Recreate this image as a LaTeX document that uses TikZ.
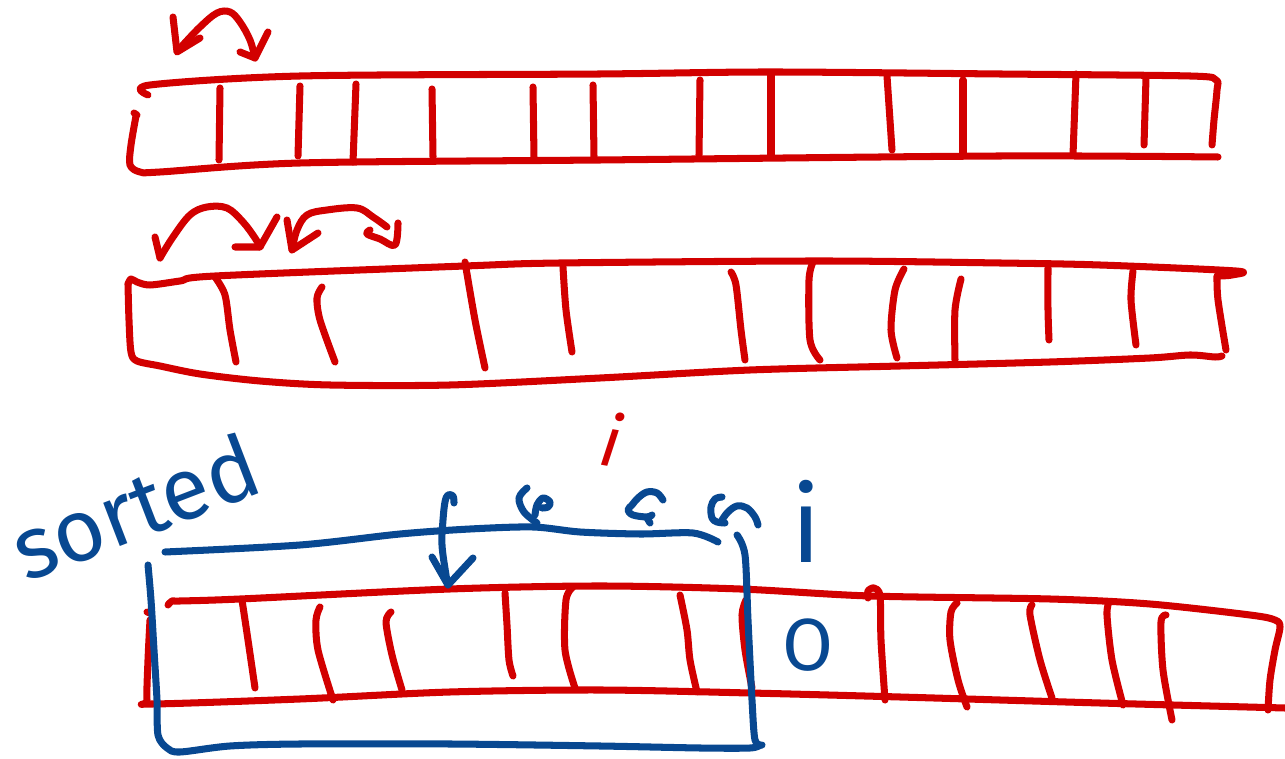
\documentclass[tikz,border=0pt]{standalone}
\usepackage{fontspec}
\newfontfamily\handfont{Fira Sans}
\definecolor{inkred}{RGB}{210,0,0}
\definecolor{inkblue}{RGB}{8,72,145}
\begin{document}
\begin{tikzpicture}[x=0.02cm,y=-0.02cm,
  redink/.style={draw=inkred,line width=4pt,line cap=round,line join=round},
  blueink/.style={draw=inkblue,line width=4pt,line cap=round,line join=round},
  bluetext/.style={text=inkblue,inner sep=0pt,font=\handfont},
  redtext/.style={text=inkred,inner sep=0pt,font=\handfont}]
\useasboundingbox (0,0) rectangle (1285,759);

% ---------- array 1 ----------
\draw[redink] plot[smooth,tension=0.5] coordinates {(148,95)(150,85)(300,76)(600,74)(770,72)(1000,74)(1190,76)(1216,80)(1217,90)(1214,120)(1212,145)};
\draw[redink] (134,113)--(137,115);
\draw[redink] plot[smooth,tension=0.5] coordinates {(136,116)(131,145)(130,165)(140,172)(160,172)(300,163)(600,160)(1000,156)(1218,157)};
\foreach \xa/\ya/\xb/\yb in {220/88/219/160,300/86/298/156,356/84/353/162,432/89/433/157,533/87/534/158,593/85/594/157,700/80/699/155,771/73/771/157,887/76/892/150,963/80/963/155,1076/74/1073/155,1146/78/1144/145}
  \draw[redink] (\xa,\ya)--(\xb,\yb);

% swap arrow above array 1
\draw[redink] (173,17)--(177,52)--(200,38);
\draw[redink] plot[smooth,tension=0.6] coordinates {(182,46)(200,27)(217,13)(230,12)(240,22)(250,40)(255,58)};
\draw[redink] (240,52)--(255,58)--(268,32);

% ---------- array 2 ----------
\draw[redink] plot[smooth,tension=0.5] coordinates {(128,284)(131,279)(137,282)(150,285)(180,281)(215,276)(465,266)(560,263)(820,261)(1000,263)(1100,265)(1236,271)(1232,275)(1220,276)};
\draw[redink] plot[smooth,tension=0.5] coordinates {(128,284)(129,320)(131,352)(137,361)(160,366)(200,374)(260,381)(330,385)(450,385)(600,378)(750,370)(900,366)(1050,362)(1150,358)(1190,355)(1215,357)(1222,356)};
\draw[redink] plot[smooth] coordinates {(215,277)(225,295)(230,330)(236,362)};
\draw[redink] plot[smooth] coordinates {(322,287)(317,298)(320,320)(335,362)};
\draw[redink] plot[smooth] coordinates {(465,262)(475,320)(485,368)};
\draw[redink] plot[smooth] coordinates {(563,267)(566,310)(572,352)};
\draw[redink] plot[smooth] coordinates {(731,272)(736,285)(741,330)(745,360)};
\draw[redink] plot[smooth] coordinates {(813,262)(809,280)(810,340)(820,360)};
\draw[redink] plot[smooth] coordinates {(904,269)(895,290)(891,330)(897,358)};
\draw[redink] plot[smooth] coordinates {(961,279)(955,310)(955,360)};
\draw[redink] plot[smooth] coordinates {(1048,268)(1048,310)(1049,340)};
\draw[redink] plot[smooth] coordinates {(1133,271)(1131,300)(1136,345)};
\draw[redink] plot[smooth] coordinates {(1217,276)(1218,300)(1226,350)};

% swap arrows above array 2
\draw[redink] (155,237)--(160,258);
\draw[redink] plot[smooth,tension=0.6] coordinates {(160,258)(173,237)(190,215)(207,207)(227,208)(243,222)(255,238)(260,247)};
\draw[redink] (235,247)--(260,247)--(277,217);
\draw[redink] (287,220)--(292,250)--(318,233);
\draw[redink] plot[smooth,tension=0.6] coordinates {(292,250)(297,230)(307,215)(327,210)(357,208)(373,217)(387,227)};
\draw[redink] plot[smooth,tension=0.6] coordinates {(370,230)(367,234)(380,239)(395,245)(398,223)};

% ---------- array 3 ----------
\draw[redink] plot[smooth,tension=0.5] coordinates {(168,605)(172,601)(180,601)(240,599)(450,589)(600,586)(740,589)(870,596)(1050,599)(1150,604)(1250,615)(1275,620)(1280,627)(1275,650)(1270,680)(1268,710)};
\draw[redink] (147,612)--(150,613);
\draw[redink] plot[smooth,tension=0.5] coordinates {(150,620)(148,660)(147,700)(152,704)(300,699)(450,692)(600,690)(750,693)(900,697)(1100,703)(1285,708)};
\draw[redink] plot[smooth] coordinates {(242,600)(248,640)(255,688)};
\draw[redink] plot[smooth] coordinates {(320,607)(316,620)(318,650)(333,700)};
\draw[redink] plot[smooth] coordinates {(391,612)(386,622)(392,655)(402,690)};
\draw[redink] plot[smooth] coordinates {(505,593)(507,625)(509,660)(513,676)};
\draw[redink] plot[smooth] coordinates {(573,587)(566,600)(565,650)(575,688)};
\draw[redink] plot[smooth] coordinates {(680,595)(687,630)(690,660)(697,692)};
\draw[redink] plot[smooth] coordinates {(746,600)(742,615)(745,650)(752,688)};
\draw[redink] plot[smooth] coordinates {(868,598)(868,591)(874,588)(880,596)(881,640)(885,700)};
\draw[redink] plot[smooth] coordinates {(957,603)(951,612)(950,640)(958,680)(967,707)};
\draw[redink] plot[smooth] coordinates {(1032,605)(1030,615)(1040,660)(1052,698)};
\draw[redink] plot[smooth] coordinates {(1109,602)(1107,615)(1112,660)(1123,705)};
\draw[redink] plot[smooth] coordinates {(1166,615)(1161,622)(1163,670)(1172,720)};

% red index label
\node[redtext,font=\handfont\itshape\fontsize{40}{40}\selectfont,rotate=-10,anchor=base] (jlabel) at (607,466) {i};

% ---------- blue sorted region ----------
\draw[blueink] plot[smooth,tension=0.5] coordinates {(165,552)(300,545)(400,534)(470,529)(533,527)(580,532)(640,534)(693,533)(718,542)};
\draw[blueink] plot[smooth,tension=0.5] coordinates {(148,565)(151,600)(154,650)(157,700)(158,735)(167,748)(180,752)(230,746)(300,744)(450,744)(600,746)(700,748)(750,748)(760,745)};
\draw[blueink] plot[smooth,tension=0.5] coordinates {(737,535)(745,555)(748,620)(752,700)(755,740)(762,745)};

\node[bluetext,font=\handfont\fontsize{50}{50}\selectfont,rotate=21,anchor=base west] (sortedlabel) at (26,583) {sorted};

% insert arrow
\draw[blueink] plot[smooth,tension=0.6] coordinates {(454,503)(453,496)(448,495)(445,502)(443,520)(442,545)(446,575)(448,585)};
\draw[blueink] (432,557)--(448,585)--(473,558);

% shift arrows
\draw[blueink] plot[smooth,tension=0.6] coordinates {(527,488)(519,498)(524,512)(537,523)};
\draw[blueink] plot[smooth,tension=0.6] coordinates {(535,515)(537,505)(543,498)(550,502)(548,507)(542,508)};
\draw[blueink] plot[smooth,tension=0.6] coordinates {(663,500)(657,493)(647,492)(638,498)(632,505)(628,510)(633,515)(647,517)(652,515)};
\draw[blueink] (647,518)--(650,523);
\draw[blueink] plot[smooth,tension=0.6] coordinates {(722,497)(715,499)(711,507)(712,518)(717,522)(725,523)};
\draw[blueink] plot[smooth,tension=0.6] coordinates {(722,520)(728,512)(737,506)(747,508)(755,517)(758,525)};

% i label and value
\node[bluetext,font=\handfont\fontsize{60}{60}\selectfont,anchor=base] (ilabel) at (806,563) {i};
\node[bluetext,font=\handfont\fontsize{42}{42}\selectfont] (keyval) at (808,645) {O};
\end{tikzpicture}
\end{document}
